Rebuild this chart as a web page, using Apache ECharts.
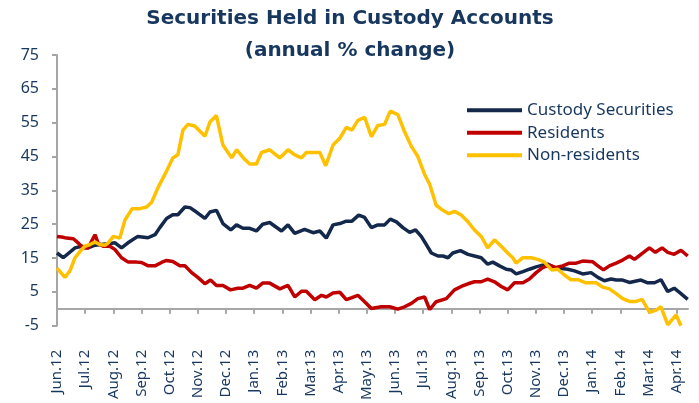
<!DOCTYPE html>
<html>
<head>
<meta charset="utf-8">
<script src="https://cdn.jsdelivr.net/npm/echarts@6/dist/echarts.min.js"></script>
<style>
html,body{margin:0;padding:0;background:#fff;}
#chart{width:699px;height:403px;}
</style>
</head>
<body>
<div id="chart"></div>
<script>
// Month tick labels (x = months since Jun.12)
const monthLabels = ["Jun.12","Jul.12","Aug.12","Sep.12","Oct.12","Nov.12","Dec.12","Jan.13","Feb.13","Mar.13","Apr.13","May.13","Jun.13","Jul.13","Aug.13","Sep.13","Oct.13","Nov.13","Dec.13","Jan.14","Feb.14","Mar.14","Apr.14"];
const yTicks = [-5, 5, 15, 25, 35, 45, 55, 65, 75];
const seriesNames = ["Custody Securities", "Residents", "Non-residents"];

// [months since Jun.12, annual % change]
const custody = [
[0,16.5],[0.22,15.1],[0.64,18],[0.88,18.5],[1.10,18],[1.35,18.8],[1.88,19.3],[2.06,19.5],[2.29,18],[2.52,19.5],
[2.87,21.4],[3.23,21],[3.48,21.9],[3.65,24],[3.89,26.7],[4.11,27.8],[4.29,27.8],[4.54,30.1],[4.72,29.9],[4.95,28.6],
[5.25,26.7],[5.43,28.6],[5.66,29.1],[5.89,25.2],[6.17,23.3],[6.37,24.8],[6.60,23.8],[6.84,23.8],[7.08,23.0],[7.30,25],
[7.55,25.5],[7.97,23],[8.20,24.8],[8.44,22.3],[8.79,23.5],[9.09,22.5],[9.33,23],[9.56,20.9],[9.80,24.8],[10.04,25.2],
[10.27,25.9],[10.47,25.9],[10.71,27.7],[10.92,27],[11.16,24],[11.39,24.8],[11.63,24.8],[11.83,26.5],[12.05,25.7],[12.28,24],
[12.52,22.6],[12.73,23.3],[12.93,21.4],[13.11,19],[13.29,16.5],[13.52,15.6],[13.70,15.6],[13.88,15.1],[14.05,16.5],[14.32,17.2],
[14.59,16.1],[14.82,15.6],[15.06,15.1],[15.29,13.2],[15.47,13.8],[15.71,12.7],[15.95,11.7],[16.12,11.5],[16.30,10.3],[16.54,11],
[16.77,11.7],[17.01,12.4],[17.24,12.9],[17.42,13.2],[17.66,12.2],[17.90,11.9],[18.13,11.7],[18.37,11.2],[18.66,10.3],[18.96,10.7],
[19.20,9.3],[19.43,8.3],[19.67,8.8],[19.85,8.5],[20.08,8.5],[20.32,7.8],[20.73,8.5],[20.97,7.7],[21.21,7.7],[21.44,8.6],
[21.68,5.1],[21.91,6.1],[22.15,4.5],[22.39,2.8]
];
const residents = [
[0,21.4],[0.17,21.2],[0.34,20.9],[0.58,20.7],[0.76,19.4],[0.93,18],[1.11,18],[1.23,20],[1.35,21.9],[1.46,19.4],
[1.64,18.5],[1.88,18.5],[2.06,17.5],[2.29,15.1],[2.53,13.8],[2.83,13.8],[3.00,13.7],[3.24,12.7],[3.48,12.7],[3.71,13.7],
[3.89,14.3],[4.11,14],[4.36,12.7],[4.54,12.7],[4.78,10.7],[5.00,9.3],[5.25,7.4],[5.45,8.5],[5.66,6.9],[5.89,6.9],
[6.16,5.6],[6.42,6.1],[6.60,6.1],[6.84,6.9],[7.08,6.1],[7.30,7.6],[7.55,7.6],[7.91,5.9],[8.20,6.9],[8.44,3.5],
[8.68,5.2],[8.85,5.2],[9.15,2.7],[9.39,4],[9.56,3.5],[9.80,4.7],[10.04,4.9],[10.27,2.7],[10.47,3.3],[10.68,4],
[10.92,2.1],[11.16,0.1],[11.51,0.6],[11.81,0.6],[12.10,-0.1],[12.34,0.6],[12.58,1.6],[12.81,3.0],[13.05,3.5],[13.23,-0.2],
[13.46,2.1],[13.82,3],[14.11,5.6],[14.35,6.6],[14.59,7.4],[14.82,8],[15.06,8],[15.29,8.8],[15.53,8],[15.77,6.6],
[16.00,5.6],[16.24,7.7],[16.54,7.7],[16.77,8.8],[17.01,10.7],[17.24,12.2],[17.48,12.9],[17.72,12.2],[17.95,12.7],[18.19,13.5],
[18.43,13.5],[18.66,14.1],[19.02,13.9],[19.20,12.7],[19.40,11.5],[19.61,12.7],[19.85,13.5],[20.08,14.4],[20.32,15.6],[20.50,14.6],
[20.73,16.1],[21.03,18],[21.24,16.7],[21.48,18],[21.68,16.7],[21.91,16.1],[22.15,17.3],[22.39,15.6]
];
const nonResidents = [
[0,12],[0.28,9.3],[0.46,11.2],[0.64,15.1],[0.82,17],[0.99,18.5],[1.17,19],[1.35,19.7],[1.52,19],[1.70,18.8],
[1.82,19.5],[2.00,21.4],[2.23,20.9],[2.41,26.2],[2.67,29.6],[2.94,29.6],[3.18,30.1],[3.36,31.5],[3.59,35.9],[3.89,40.7],
[4.11,44.6],[4.29,45.5],[4.47,52.8],[4.65,54.5],[4.89,54],[5.25,51],[5.43,55.2],[5.66,57.1],[5.89,48.4],[6.20,44.6],
[6.38,47],[6.67,44.1],[6.84,42.8],[7.08,42.8],[7.26,46.2],[7.55,47],[7.91,44.6],[8.20,47],[8.44,45.5],[8.68,44.6],
[8.85,46.2],[9.09,46.2],[9.33,46.2],[9.54,42.3],[9.80,48.4],[10.04,50.4],[10.27,53.6],[10.47,52.8],[10.68,55.7],[10.92,56.6],
[11.16,50.9],[11.39,54.2],[11.63,54.5],[11.83,58.4],[12.10,57.4],[12.34,52.3],[12.58,48],[12.81,45],[13.05,39.7],[13.23,36.8],
[13.46,30.6],[13.70,29.1],[13.91,28.1],[14.11,28.8],[14.35,27.7],[14.59,25.7],[14.82,23.3],[15.06,21.4],[15.29,18],[15.53,20.4],
[15.77,18.5],[16.00,16.5],[16.18,15.1],[16.30,13.5],[16.54,15.1],[16.83,15.1],[17.07,14.6],[17.30,13.8],[17.56,11.5],[17.78,11.7],
[18.01,10],[18.25,8.6],[18.49,8.6],[18.78,7.7],[19.14,7.7],[19.37,6.4],[19.61,5.9],[19.85,4.5],[20.08,3.0],[20.32,2.2],
[20.56,2.2],[20.77,2.8],[21.03,-1.0],[21.27,-0.4],[21.44,0.6],[21.68,-4.7],[21.98,-1.8],[22.15,-5]
];

const textColor = '#17375e';
const axisGrey = '#a6a6a6';
const chart = echarts.init(document.getElementById('chart'), null, {renderer: 'canvas'});
chart.setOption({
  animation: false,
  backgroundColor: '#ffffff',
  title: {
    text: 'Securities Held in Custody Accounts\n(annual % change)',
    left: 350,
    top: 3,
    textAlign: 'center',
    padding: 0,
    textStyle: {fontFamily: 'DejaVu Sans', fontWeight: 'bold', fontSize: 20, color: textColor, lineHeight: 32}
  },
  legend: {
    orient: 'vertical',
    left: 467,
    top: 99,
    padding: 0,
    itemWidth: 55,
    itemHeight: 4,
    itemGap: 0,
    icon: 'rect',
    textStyle: {fontFamily: 'Noto Sans', fontSize: 17, color: textColor, lineHeight: 22.5},
    data: seriesNames
  },
  grid: {left: 57, right: 11, top: 55, bottom: 72, containLabel: false},
  xAxis: {
    type: 'value',
    min: 0,
    max: 22.4,
    interval: 1,
    splitLine: {show: false},
    axisLine: {show: true, onZero: true, lineStyle: {color: axisGrey, width: 2}},
    axisTick: {show: true, length: 5, lineStyle: {color: axisGrey, width: 2}},
    axisLabel: {
      rotate: 90,
      margin: 24,
      showMaxLabel: false,
      fontFamily: 'Noto Sans',
      fontSize: 15,
      color: textColor,
      formatter: function (v) {
        const r = Math.round(v);
        return Math.abs(v - r) < 1e-6 && monthLabels[r] ? monthLabels[r] : '';
      }
    }
  },
  yAxis: {
    type: 'value',
    min: yTicks[0],
    max: yTicks[yTicks.length - 1],
    interval: 10,
    splitLine: {show: false},
    axisLine: {show: true, lineStyle: {color: axisGrey, width: 2}},
    axisTick: {show: true, length: 5, lineStyle: {color: axisGrey, width: 2}},
    axisLabel: {margin: 18, fontFamily: 'Noto Sans', fontSize: 16, color: textColor}
  },
  series: [
    {name: seriesNames[0], type: 'line', data: custody, showSymbol: false, color: '#14284b', lineStyle: {width: 3.5, color: '#14284b'}},
    {name: seriesNames[1], type: 'line', data: residents, showSymbol: false, color: '#c00000', lineStyle: {width: 3.5, color: '#c00000'}},
    {name: seriesNames[2], type: 'line', data: nonResidents, showSymbol: false, color: '#ffc000', lineStyle: {width: 3.5, color: '#ffc000'}}
  ]
});
</script>
</body>
</html>
